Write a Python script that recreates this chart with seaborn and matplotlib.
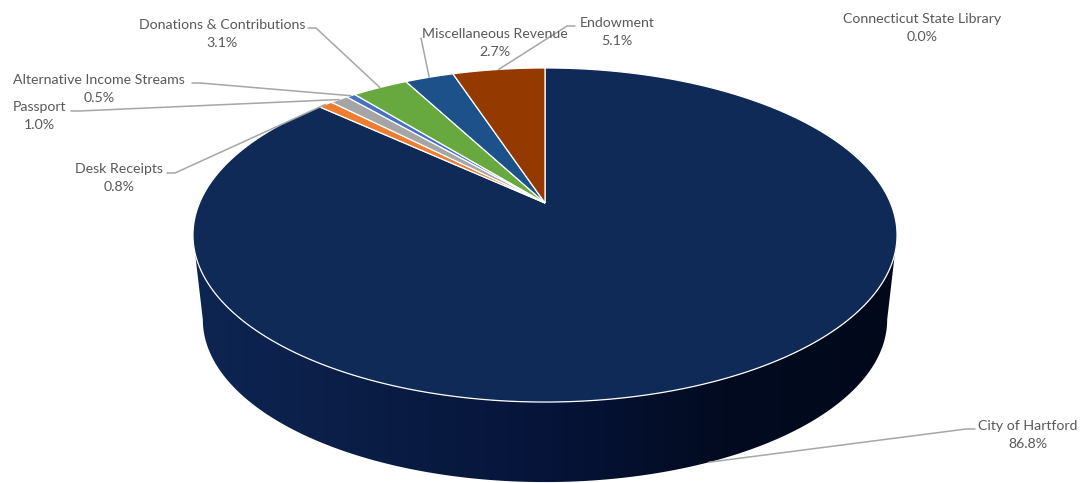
import numpy as np
import matplotlib
matplotlib.use('Agg')
import matplotlib.pyplot as plt
from matplotlib.patches import Polygon
from matplotlib.colors import LinearSegmentedColormap
import seaborn as sns

# revenue shares (percent), drawn clockwise from 12 o'clock
categories = ['City of Hartford', 'Desk Receipts', 'Passport', 'Alternative Income Streams',
              'Donations & Contributions', 'Miscellaneous Revenue', 'Endowment',
              'Connecticut State Library']
shares = [86.8, 0.8, 1.0, 0.5, 3.1, 2.7, 5.1, 0.0]
slice_colors = ['#102A58', '#ED7D31', '#A5A5A5', '#4472C4', '#67A93F', '#1C5189', '#943A00', '#FFC000']

# label layout (pixel coords of text block centre, leader anchor + elbow)
label_pos = [(1028, 435), (119, 178), (39, 116), (99, 89), (222, 34), (495, 43), (617, 32), (922, 28)]
leader_pts = [[(975, 429), (966, 429)], [(167, 173), (175, 173)], [(71, 111), (79, 111)],
              [(192, 83), (200, 83)], [(308, 28), (316, 28)], [(421, 38)], [(575, 26), (567, 26)], None]

sns.set_theme(style='white')
plt.rcParams['font.family'] = ['Lato', 'DejaVu Sans']

# perspective geometry of the 3d pie (screen pixels)
X0, Y0 = 545, 203
A, B, K = 345.5, 160.9, 0.1916
S, DY = 0.972, 85.6


def proj(theta, bottom=False):
    t = np.radians(theta)
    u, v = np.cos(t), np.sin(t)
    w = 1 + K * v
    x = X0 + A * u / w
    y = Y0 - B * v / w
    if bottom:
        x = X0 + S * (x - X0)
        y = Y0 + DY + S * (y - Y0)
    return x, y


fig = plt.figure(figsize=(10.81, 4.83), dpi=100)
ax = fig.add_axes([0, 0, 1, 1])

# side wall (front part only is visible)
t_r = -np.degrees(np.arcsin(K))
arc = np.linspace(180 - t_r, 360 + t_r, 300)
tx, ty = proj(arc)
bx, by = proj(arc[::-1], bottom=True)
side = Polygon(np.column_stack([np.r_[tx, bx], np.r_[ty, by]]), closed=True,
               facecolor='none', edgecolor='none')
ax.add_patch(side)
side_cmap = LinearSegmentedColormap.from_list(
    'side', ['#0E2553', '#0A1D45', '#06143A', '#020B20', '#01081A'])
im = ax.imshow(np.linspace(0, 1, 256)[None, :], cmap=side_cmap, aspect='auto',
               extent=[190, 900, 490, 225], zorder=1)
im.set_clip_path(side)

# top face slices + leaders + labels
cum = 0
for i, (name, val, col) in enumerate(zip(categories, shares, slice_colors)):
    a0 = 90 - cum * 3.6
    a1 = 90 - (cum + val) * 3.6
    cum += val
    if val > 0:
        a = np.linspace(a0, a1, max(int(abs(a0 - a1) * 3), 6))
        px, py = proj(a)
        pts = np.column_stack([np.r_[X0, px], np.r_[Y0, py]])
        ax.add_patch(Polygon(pts, closed=True, facecolor=col, edgecolor='white',
                             linewidth=0.9, zorder=2))
    mid = (a0 + a1) / 2
    if leader_pts[i] is not None:
        ex, ey = proj(mid, bottom=np.sin(np.radians(mid)) < 0)
        lx = [p[0] for p in leader_pts[i]] + [ex]
        ly = [p[1] for p in leader_pts[i]] + [ey]
        ax.plot(lx, ly, color='#A6A6A6', linewidth=1.1, zorder=3)
    ax.text(label_pos[i][0], label_pos[i][1], f'{name}\n{val:.1f}%', ha='center', va='center',
            fontsize=10.2, color='#595959', linespacing=1.55, zorder=4)

ax.set_xlim(0, 1081)
ax.set_ylim(483, 0)
ax.axis('off')

plt.savefig('out.png', dpi=100, facecolor='white')
